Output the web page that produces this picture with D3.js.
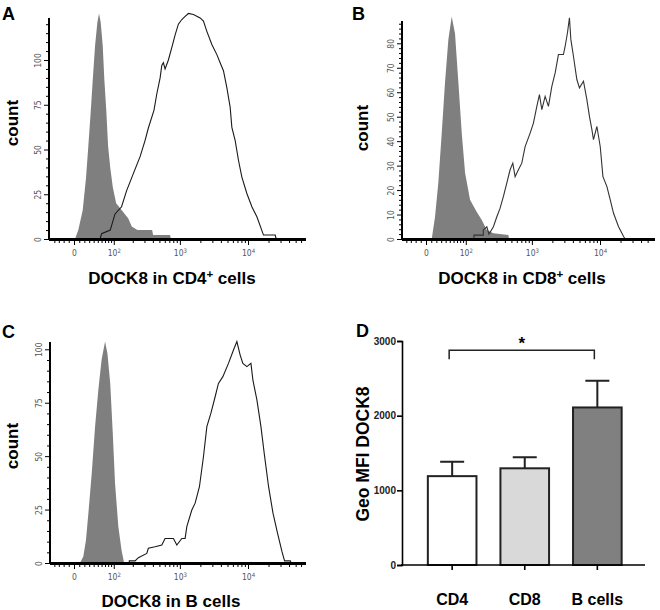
<!DOCTYPE html>
<html><head><meta charset="utf-8">
<script src="https://cdn.jsdelivr.net/npm/d3@7"></script>
<style>
body{margin:0;background:#fff}
svg{display:block}
text{font-family:"Liberation Sans",Arial,sans-serif}
.tl{font-family:"Liberation Sans Narrow","DejaVu Sans Condensed","Liberation Sans",sans-serif;fill:#555;font-size:8.5px}
</style>
</head><body><svg id="c" width="660" height="610"></svg>
<script>
// ---- data: histograms as [fluorescence intensity, count] ----
const grayA = [[1.9,0],[8.2,5],[16.7,16],[23.3,34],[28.2,52],[33.3,71],[37.9,89],[43.3,108],[48.9,121],[53.2,126],[57.7,121],[63.3,108],[68,89],[74.2,71],[79.7,52],[87,40],[96.2,29],[109.5,20],[143,15],[171,11.5],[193,7],[235,5],[390,5],[403,2.2],[717,2.2],[740,0]];
const openA = [[56,0],[60,3],[87,5],[105,14],[134,18],[161,27],[204,36.5],[258,46],[306,55],[343,62],[416,72],[457,81],[512,90],[542,97],[572,98.5],[606,95],[678,100],[762,107],[852,114],[951,120],[1068,122.6],[1195,124.4],[1336,126],[1581,125.4],[1985,123.5],[2220,121.7],[2490,116],[2949,108.7],[3492,103],[3903,98.5],[4363,94],[4894,84.6],[5477,73.5],[5797,62.4],[6485,55],[7246,44],[8131,34.6],[9626,25.4],[11400,18],[13507,12.4],[16880,2.2],[25065,2.2],[25930,0]];
const grayB = [[10.9,0],[17.3,9],[24,23],[31.1,43],[38.5,64],[46.4,81.5],[55,91],[64.1,84],[74.2,64],[85.5,43],[97.4,27],[117.6,16],[150.6,11],[180,7.8],[214.6,3.7],[270,2.3],[451,1.6],[462,0]];
const openB = [[136,0],[136,1.6],[190,1.6],[190,3.7],[215,5],[232,2],[270,5],[303,9],[340,12.6],[380,17.3],[427,22.8],[478,28.3],[524,31],[567,25.5],[634,28.3],[711,31],[796,37.8],[943,43.3],[1054,47.4],[1183,54.2],[1292,59],[1401,52.9],[1566,58.3],[1752,54.2],[1965,62.4],[2198,67.9],[2456,75.4],[2908,75.4],[3082,78.8],[3332,84.3],[3562,90.4],[3735,81.6],[4077,74.7],[4575,65.2],[4995,61.8],[5723,64.5],[6418,57],[7011,50],[7605,44.7],[8025,40.6],[9005,46],[10074,37.8],[11043,25.5],[12640,21.4],[14140,16],[15798,10.5],[18721,5],[22170,1],[23500,0]];
const grayC = [[11.4,0],[17.9,3],[23.3,10.8],[28.2,23],[35.6,42],[43.3,63.8],[51.4,81],[60,95],[70.2,103.6],[77.6,98],[87,84],[96.2,60.7],[105,37.3],[119,17],[134,6],[147,0]];
const openC = [[177,0],[177,1],[217,1],[243,2.5],[325,4.5],[343,6.9],[431,7.6],[542,8.4],[606,11.5],[804,11.5],[902,8.4],[1068,11.5],[1195,11.5],[1265,17],[1498,24.8],[1676,28],[1938,35.7],[2220,49.7],[2490,63.8],[2850,70],[3295,77.8],[3683,84],[4278,87.2],[5167,93.4],[6122,99.7],[6866,103.6],[7676,97.3],[8410,93.4],[9626,91.9],[11043,93.4],[11805,85.6],[13507,76.3],[15484,63.8],[17300,51.3],[20042,35.7],[23262,23.3],[27154,13.9],[31517,5.3],[34418,1],[41742,1],[43200,0]];

// ---- tick labels ----
const xMajor = [0, 100, 1000, 10000];
const xMajorBase = ["0", "10", "10", "10"];
const xMajorSup = ["", "2", "3", "4"];
const yTicksA = [0, 25, 50, 75, 100];
const yTicksB = [0, 10, 20, 30, 40, 50, 60, 70, 80];
const yTicksC = [0, 25, 50, 75, 100];

// ---- panel D data ----
const categories = ["CD4", "CD8", "B cells"];
const means = [1190, 1295, 2110];
const sems = [193, 147, 356];
const barColors = ["#ffffff", "#d9d9d9", "#808080"];
const dTicks = [0, 1000, 2000, 3000];

const W = 56; // biexponential width constant
const svg = d3.select('#c');

// minor x ticks
const xMinor = [];
for (let k = 1; k <= 9; k++) xMinor.push(-k * 10);
for (let n = 1; n <= 4; n++) for (let k = 1; k <= 9; k++) { const v = k * Math.pow(10, n); if (!xMajor.includes(v)) xMinor.push(v); }

function histPanel(cfg) {
  const g = svg.append('g');
  const T = v => Math.asinh(v / W);
  const xs = d3.scaleLinear().domain([0, T(10000)]).range([cfg.x0, cfg.x0 + 174]);
  const X = v => xs(T(v));
  const ys = d3.scaleLinear().domain([0, cfg.yRef]).range([cfg.yBase, cfg.yRefPx]);

  g.append('path').datum(cfg.gray)
    .attr('d', d3.area().x(d => X(d[0])).y0(ys(0)).y1(d => ys(d[1])))
    .attr('fill', '#7f7f7f');
  g.append('path').datum(cfg.open)
    .attr('d', d3.line().x(d => X(d[0])).y(d => ys(d[1])))
    .attr('fill', 'none').attr('stroke', cfg.lineColor).attr('stroke-width', 1.1);

  const lo = xs.invert(cfg.axisX + 2), hi = xs.invert(cfg.xRight - 2);
  const minor = xMinor.map(T).filter(t => t >= lo && t <= hi);
  const gxm = g.append('g').attr('transform', `translate(0,${cfg.yBase})`)
    .call(d3.axisBottom(xs).tickValues(minor).tickSize(4).tickFormat(''));
  gxm.select('.domain').remove();
  const gx = g.append('g').attr('transform', `translate(0,${cfg.yBase})`)
    .call(d3.axisBottom(xs).tickValues(xMajor.map(T)).tickSize(6).tickPadding(5).tickFormat(''));
  gx.select('.domain').remove();
  gx.selectAll('.tick text').each(function (d, i) {
    const t = d3.select(this).attr('class', 'tl').attr('fill', null).attr('font-size', null).attr('font-family', null);
    t.text(xMajorBase[i]);
    if (xMajorSup[i]) t.append('tspan').attr('dy', '-3').attr('font-size', '6px').text(xMajorSup[i]);
  });
  g.selectAll('.tick line').attr('stroke', '#000');

  // y axis
  const ymin = d3.range(0, cfg.yMaxMinor + 0.001, cfg.yMinorStep).filter(v => !cfg.yTicks.includes(v));
  const gym = g.append('g').attr('transform', `translate(${cfg.axisX},0)`)
    .call(d3.axisLeft(ys).tickValues(ymin).tickSize(3).tickFormat(''));
  gym.select('.domain').remove();
  const gy = g.append('g').attr('transform', `translate(${cfg.axisX},0)`)
    .call(d3.axisLeft(ys).tickValues(cfg.yTicks).tickSize(5));
  gy.select('.domain').remove();
  gy.selectAll('.tick text').attr('class', 'tl').attr('fill', null).attr('font-size', null).attr('font-family', null)
    .attr('transform', 'rotate(-90)').attr('x', 0).attr('y', -11).attr('dy', '0.35em').attr('text-anchor', 'middle');
  g.selectAll('.tick line').attr('stroke', '#000');

  g.append('line').attr('x1', cfg.axisX).attr('x2', cfg.xRight).attr('y1', cfg.yBase + 0.5).attr('y2', cfg.yBase + 0.5)
    .attr('stroke', '#000').attr('stroke-width', 2.8);
  g.append('line').attr('x1', cfg.axisX).attr('x2', cfg.axisX).attr('y1', cfg.yTop).attr('y2', cfg.yBase)
    .attr('stroke', '#000').attr('stroke-width', 2);

  const tt = g.append('text').attr('x', cfg.titleX).attr('y', cfg.titleY).attr('text-anchor', 'middle')
    .attr('font-weight', 'bold').attr('font-size', '17px');
  tt.append('tspan').text(cfg.title[0]);
  if (cfg.title[1] !== null) {
    tt.append('tspan').attr('dy', '-6').attr('font-size', '11.5px').text('+');
    tt.append('tspan').attr('dy', '6').text(cfg.title[1]);
  }
  g.append('text').attr('transform', `translate(${cfg.countX},${cfg.countY}) rotate(-90)`)
    .attr('text-anchor', 'middle').attr('font-weight', 'bold').attr('font-size', '17px').text('count');
  g.append('text').attr('x', cfg.letterX).attr('y', cfg.letterY).attr('font-weight', 'bold')
    .attr('font-size', '18px').text(cfg.letter);
}

histPanel({ gray: grayA, open: openA, lineColor: '#1a1a1a', axisX: 49, x0: 74, xRight: 306, yBase: 239, yTop: 18,
  yRef: 100, yRefPx: 60, yTicks: yTicksA, yMinorStep: 5, yMaxMinor: 120,
  title: ['DOCK8 in CD4', ' cells'], titleX: 172, titleY: 284, countX: 18, countY: 123, letter: 'A', letterX: 2, letterY: 20 });
histPanel({ gray: grayB, open: openB, lineColor: '#333', axisX: 402, x0: 426, xRight: 655, yBase: 239, yTop: 21,
  yRef: 80, yRefPx: 43.3, yTicks: yTicksB, yMinorStep: 2, yMaxMinor: 88,
  title: ['DOCK8 in CD8', ' cells'], titleX: 522, titleY: 284, countX: 368, countY: 128, letter: 'B', letterX: 352, letterY: 20 });
histPanel({ gray: grayC, open: openC, lineColor: '#1a1a1a', axisX: 50, x0: 74, xRight: 306, yBase: 563, yTop: 342,
  yRef: 100, yRefPx: 349.3, yTicks: yTicksC, yMinorStep: 5, yMaxMinor: 100,
  title: ['DOCK8 in B cells', null], titleX: 171, titleY: 607, countX: 18, countY: 446, letter: 'C', letterX: 2, letterY: 338 });

// ---- panel D: bar chart ----
(function () {
  const g = svg.append('g');
  const y = d3.scaleLinear().domain([0, 3000]).range([565, 341]);
  const x = d3.scaleBand().domain(categories).range([415.5, 634]).paddingInner(0.33).paddingOuter(0.17);
  const bw = x.bandwidth();
  const rows = categories.map((c, i) => ({ c, m: means[i], s: sems[i], col: barColors[i] }));

  g.selectAll('.err').data(rows).enter().append('path')
    .attr('d', d => `M${x(d.c) + bw / 2},${y(d.m)}V${y(d.m + d.s)}M${x(d.c) + bw / 2 - 12},${y(d.m + d.s)}H${x(d.c) + bw / 2 + 12}`)
    .attr('stroke', '#222').attr('stroke-width', 2).attr('fill', 'none');
  g.selectAll('.bar').data(rows).enter().append('rect')
    .attr('x', d => x(d.c)).attr('y', d => y(d.m)).attr('width', bw).attr('height', d => y(0) - y(d.m))
    .attr('fill', d => d.col).attr('stroke', '#222').attr('stroke-width', 2);

  const gy = g.append('g').attr('transform', 'translate(402,0)')
    .call(d3.axisLeft(y).tickValues(dTicks).tickSize(5).tickPadding(1).tickFormat(d3.format('d')));
  gy.select('.domain').attr('stroke-width', 1.6);
  gy.selectAll('.tick line').attr('stroke-width', 1.6);
  gy.selectAll('.tick text').attr('font-size', '10px').attr('font-weight', 'bold')
    .attr('font-family', '"Liberation Sans",Arial,sans-serif').attr('fill', '#222');

  const gx = g.append('g').attr('transform', 'translate(0,565)')
    .call(d3.axisBottom(x).tickSize(5).tickPadding(24));
  gx.select('.domain').remove();
  gx.selectAll('.tick line').attr('stroke-width', 1.6);
  gx.selectAll('.tick text').attr('font-size', '16px').attr('font-weight', 'bold')
    .attr('font-family', '"Liberation Sans",Arial,sans-serif').attr('fill', '#000');
  g.append('line').attr('x1', 401).attr('x2', 645).attr('y1', 565).attr('y2', 565).attr('stroke', '#000').attr('stroke-width', 1.6);

  const xa = x('CD4') + bw / 2 - 3, xb = x('B cells') + bw / 2 - 3, yb = y(2877);
  g.append('path').attr('d', `M${xa},${yb + 9}V${yb}H${xb}V${yb + 9}`).attr('fill', 'none').attr('stroke', '#222').attr('stroke-width', 1.5);
  g.append('text').attr('x', (xa + xb) / 2).attr('y', yb - 1).attr('text-anchor', 'middle')
    .attr('font-weight', 'bold').attr('font-size', '17px').text('*');

  g.append('text').attr('transform', 'translate(369,454) rotate(-90)').attr('text-anchor', 'middle')
    .attr('font-weight', 'bold').attr('font-size', '17.5px').text('Geo MFI DOCK8');
  g.append('text').attr('x', 356).attr('y', 337).attr('font-weight', 'bold').attr('font-size', '18px').text('D');
})();
</script>
</body></html>
